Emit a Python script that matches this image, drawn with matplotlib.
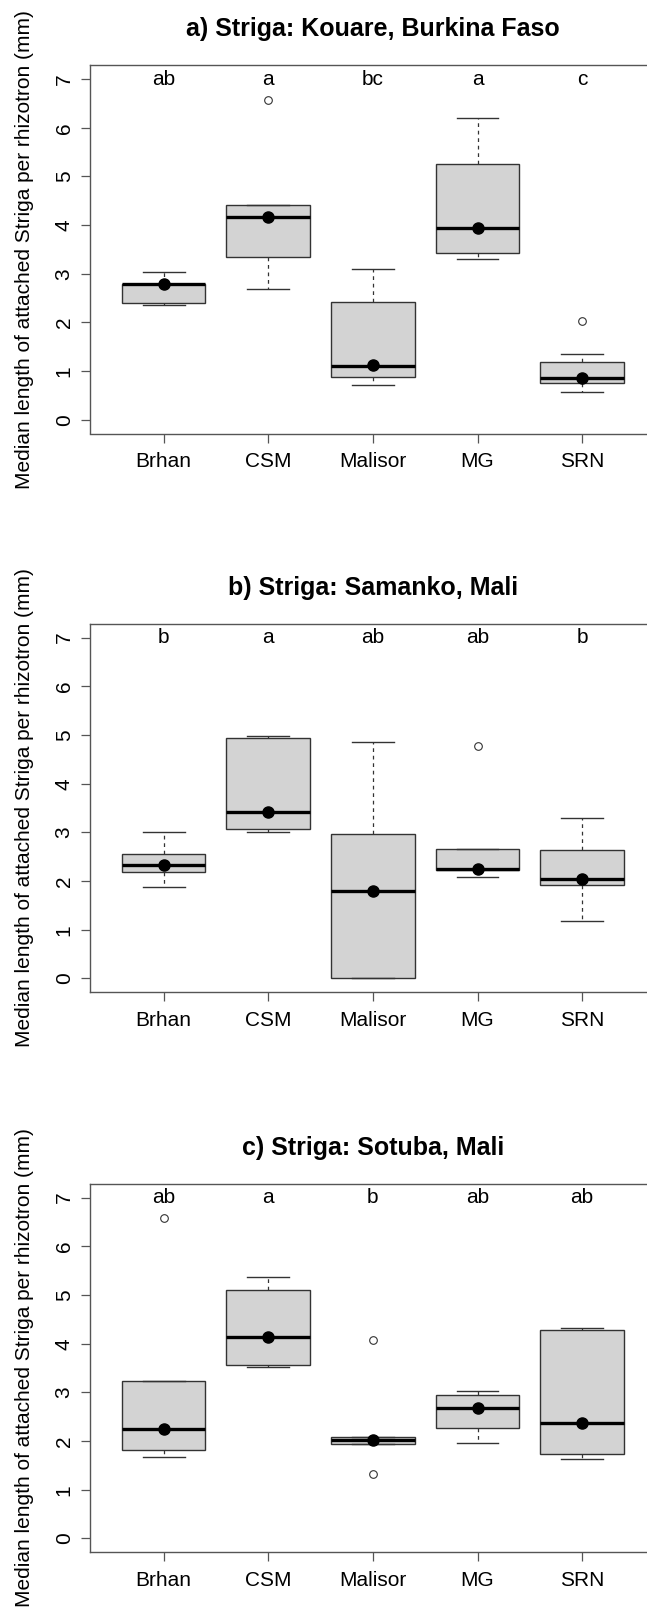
import matplotlib
matplotlib.use("Agg")
import matplotlib.pyplot as plt

plt.rcParams['font.family'] = ['Liberation Sans', 'DejaVu Sans']

# Cultivars on the x axis
cultivars = ["Brhan", "CSM", "Malisor", "MG", "SRN"]

# a) Kouare, Burkina Faso
kouare_whislo = [2.35, 2.69, 0.71, 3.30, 0.57]
kouare_q1 = [2.39, 3.34, 0.88, 3.42, 0.76]
kouare_med = [2.80, 4.17, 1.11, 3.94, 0.86]
kouare_q3 = [2.80, 4.41, 2.43, 5.25, 1.19]
kouare_whishi = [3.03, 4.41, 3.09, 6.20, 1.36]
kouare_fliers = [[], [6.56], [], [], [2.03]]
kouare_dots = [2.80, 4.17, 1.12, 3.94, 0.86]
kouare_letters = ["ab", "a", "bc", "a", "c"]

# b) Samanko, Mali
samanko_whislo = [1.87, 3.00, 0.00, 2.08, 1.19]
samanko_q1 = [2.18, 3.07, 0.00, 2.22, 1.92]
samanko_med = [2.34, 3.42, 1.80, 2.24, 2.05]
samanko_q3 = [2.55, 4.93, 2.96, 2.66, 2.64]
samanko_whishi = [3.00, 4.98, 4.85, 2.66, 3.29]
samanko_fliers = [[], [], [], [4.77], []]
samanko_dots = [2.34, 3.42, 1.80, 2.25, 2.05]
samanko_letters = ["b", "a", "ab", "ab", "b"]

# c) Sotuba, Mali
sotuba_whislo = [1.67, 3.53, 1.93, 1.97, 1.64]
sotuba_q1 = [1.81, 3.57, 1.93, 2.27, 1.73]
sotuba_med = [2.25, 4.13, 2.02, 2.68, 2.38]
sotuba_q3 = [3.23, 5.11, 2.09, 2.95, 4.29]
sotuba_whishi = [3.23, 5.36, 2.09, 3.03, 4.32]
sotuba_fliers = [[6.59], [], [4.07, 1.33], [], []]
sotuba_dots = [2.25, 4.13, 2.02, 2.68, 2.38]
sotuba_letters = ["ab", "a", "b", "ab", "ab"]

panels = [
    ("a) Striga: Kouare, Burkina Faso", kouare_whislo, kouare_q1, kouare_med,
     kouare_q3, kouare_whishi, kouare_fliers, kouare_dots, kouare_letters),
    ("b) Striga: Samanko, Mali", samanko_whislo, samanko_q1, samanko_med,
     samanko_q3, samanko_whishi, samanko_fliers, samanko_dots, samanko_letters),
    ("c) Striga: Sotuba, Mali", sotuba_whislo, sotuba_q1, sotuba_med,
     sotuba_q3, sotuba_whishi, sotuba_fliers, sotuba_dots, sotuba_letters),
]

W, H = 647, 1611
fig = plt.figure(figsize=(W / 100, H / 100), dpi=100)

# frame geometry in pixels (left, top of each panel); right edge runs off the image
left_px, width_px, height_px = 90.4, 565.0, 368.1
tops_px = [65.4, 624.0, 1184.0]

positions = list(range(1, len(cultivars) + 1))
ylabel = "Median length of attached Striga per rhizotron (mm)"

for (title, whislo, q1, med, q3, whishi, fliers, dots, letters), top in zip(panels, tops_px):
    ax = fig.add_axes([left_px / W, 1 - (top + height_px) / H,
                       width_px / W, height_px / H])

    stats = []
    for i in range(len(cultivars)):
        stats.append(dict(label=cultivars[i], whislo=whislo[i], q1=q1[i], med=med[i],
                          q3=q3[i], whishi=whishi[i], fliers=fliers[i]))

    ax.bxp(stats, positions=positions, widths=0.8, patch_artist=True,
           showfliers=True,
           boxprops=dict(facecolor='#d3d3d3', edgecolor='#333333', linewidth=1.0),
           medianprops=dict(color='black', linewidth=2.4, solid_capstyle='butt'),
           whiskerprops=dict(color='#333333', linewidth=0.9, linestyle=(0, (3, 3))),
           capprops=dict(color='#333333', linewidth=1.0),
           capwidths=0.4,
           flierprops=dict(marker='o', markersize=5.5, markerfacecolor='none',
                           markeredgecolor='#333333', markeredgewidth=0.8))

    # medians shown as filled dots
    ax.plot(positions, dots, 'o', color='black', markersize=8, zorder=5)

    # significance letters
    for p, lab in zip(positions, letters):
        ax.text(p, 7, lab, ha='center', va='center', fontsize=15)

    ax.set_xlim(0.3, 5.7)
    ax.set_ylim(-0.28, 7.28)
    ax.set_yticks(range(0, 8))
    ax.set_xticks(positions)
    ax.set_xticklabels(cultivars)
    ax.tick_params(axis='both', length=6.5, width=0.9, color='#555555', labelsize=15)
    ax.tick_params(axis='x', pad=7)
    ax.tick_params(axis='y', pad=5.5)
    plt.setp(ax.get_yticklabels(), rotation=90, va='center')
    for s in ax.spines.values():
        s.set_color('#555555')
        s.set_linewidth(1.0)
    ax.spines['right'].set_visible(False)

    ax.set_ylabel(ylabel, fontsize=15, va='center')
    ax.yaxis.set_label_coords(-0.1175, 0.5)

    ax.text(0.5, 1 + 36.0 / height_px, title, transform=ax.transAxes,
            ha='center', va='center', fontsize=18, fontweight='bold')

fig.savefig("out.png", dpi=100)
